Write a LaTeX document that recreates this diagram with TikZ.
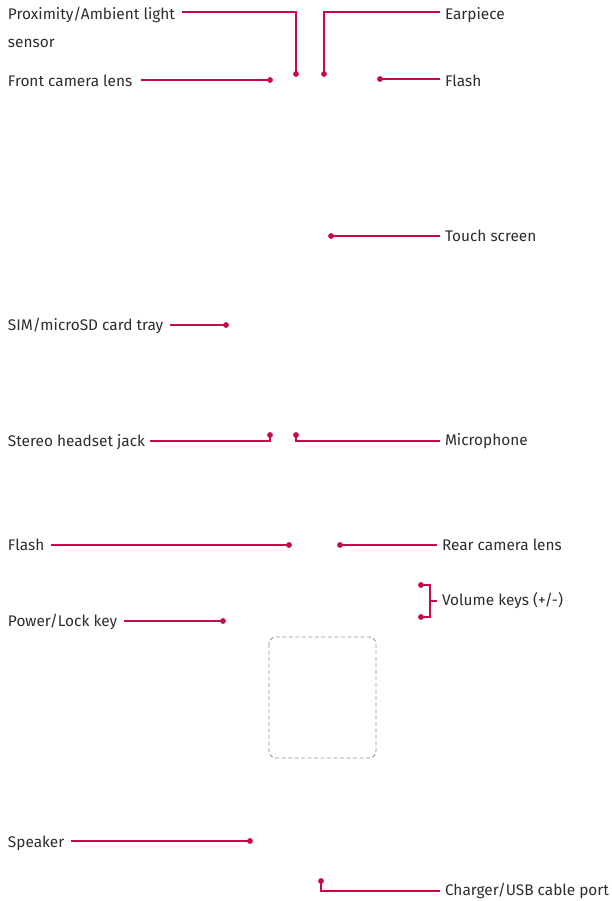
\documentclass[tikz,border=0pt]{standalone}
\usepackage{fontspec}
\setmainfont{Fira Sans}
\definecolor{lgred}{RGB}{200,10,75}
\definecolor{txt}{RGB}{45,45,45}
\begin{document}
\begin{tikzpicture}[x=1pt,y=-1pt,
  lbl/.style={font=\fontsize{15.4}{17}\selectfont\color{txt},inner sep=0pt,outer sep=0pt},
  lft/.style={lbl,anchor=west},
  ln/.style={draw=lgred,line width=1.1pt},
  dot/.style={circle,fill=lgred,inner sep=0pt,minimum size=5.8pt}]
\useasboundingbox (0,0) rectangle (612,901);
% labels
\node[lft] (prox) at (8,15) {Proximity/Ambient light};
\node[lft] (sens) at (8,43) {sensor};
\node[lft] (fcam) at (8,81) {Front camera lens};
\node[lft] (ear) at (445,15) {Earpiece};
\node[lft] (fl1) at (445,81) {Flash};
\node[lft] (ts) at (445,236) {Touch screen};
\node[lft] (sim) at (8,326) {SIM/microSD card tray};
\node[lft] (shj) at (8,442) {Stereo headset jack};
\node[lft] (mic) at (445,441) {Microphone};
\node[lft] (fl2) at (8,545) {Flash};
\node[lft] (rcam) at (442,545) {Rear camera lens};
\node[lft] (vol) at (442,601) {Volume keys (+/-)};
\node[lft] (pwr) at (8,622) {Power/Lock key};
\node[lft] (spk) at (8,843) {Speaker};
\node[lft] (chg) at (445,891) {Charger/USB cable port};
% dots
\node[dot] (dprox) at (296,74) {};
\node[dot] (dear) at (324,74) {};
\node[dot] (dfcam) at (270,80) {};
\node[dot] (dfl1) at (380,79) {};
\node[dot] (dts) at (331,236) {};
\node[dot] (dsim) at (226,325) {};
\node[dot] (dshj) at (270,435) {};
\node[dot] (dmic) at (296,435) {};
\node[dot] (dfl2) at (289,545) {};
\node[dot] (drcam) at (340,545) {};
\node[dot] (dvup) at (421,585) {};
\node[dot] (dvdn) at (421,617) {};
\node[dot] (dpwr) at (223,621) {};
\node[dot] (dspk) at (250,841) {};
\node[dot] (dchg) at (321,881) {};
% connectors
\draw[ln] (182,12) -| (dprox.center);
\draw[ln] (dear.center) |- (440,12);
\draw[ln] (141,80) -- (dfcam.center);
\draw[ln] (dfl1.center) -- (440,79);
\draw[ln] (dts.center) -- (440,236);
\draw[ln] (170,325) -- (dsim.center);
\draw[ln] (150,441) -| (dshj.center);
\draw[ln] (dmic.center) |- (440,441);
\draw[ln] (51,545) -- (dfl2.center);
\draw[ln] (drcam.center) -- (437,545);
\draw[ln] (dvup.center) -| (430,601) |- (dvdn.center);
\draw[ln] (430,601) -- (437,601);
\draw[ln] (124,621) -- (dpwr.center);
\draw[ln] (71,841) -- (dspk.center);
\draw[ln] (dchg.center) |- (440,891);
% dashed box
\draw[draw={rgb,255:red,150;green,150;blue,150},line width=0.9pt,dash pattern=on 4pt off 2.5pt,rounded corners=7pt] (269,637) rectangle (376,758);
\end{tikzpicture}
\end{document}
